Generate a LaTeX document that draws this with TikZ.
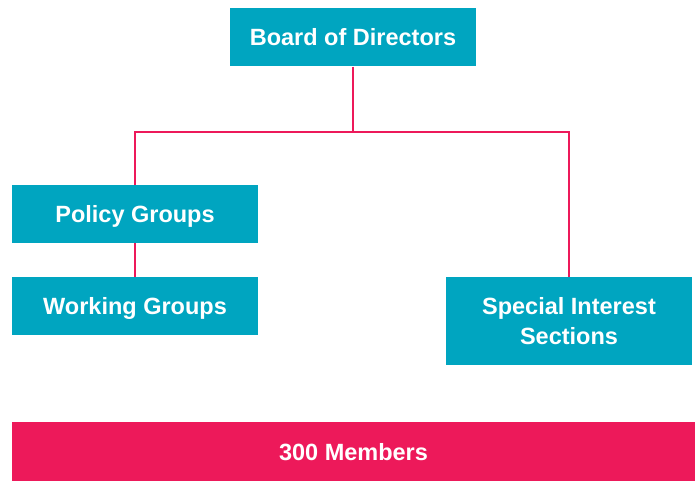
\documentclass[tikz,border=0pt]{standalone}
\usepackage{fontspec}
\setmainfont{Liberation Sans}
\usetikzlibrary{positioning}
\definecolor{teal}{RGB}{0,165,192}
\definecolor{rose}{RGB}{237,25,90}

\begin{document}
\begin{tikzpicture}
      [x = 1pt, y = -1pt,
      box/.style= {
         fill = teal,
         text = white,
         inner sep = 0pt,
         minimum width = 246pt,
         minimum height = 58pt,
         text height = 17pt,
         text depth = 0pt,
         align = center,
         font = \fontsize{23.5}{30}\selectfont\bfseries
      },
      link/.style= {
         draw = rose,
         line width = 2pt
      }]

      \useasboundingbox (0, 0) rectangle (696, 481);

      \node[box] (board) at (353, 37.5) {Board of Directors};
      \node[box] (policy) at (135, 214) {Policy Groups};
      \node[box] (working) at (135, 306) {Working Groups};
      \node[box, minimum height = 88pt, text height = 47pt] (special) at (569, 321) {Special Interest\\Sections};
      \node[box, fill = rose, minimum width = 683pt, minimum height = 59pt] (members) at (353.5, 451.5) {300 Members};

      \coordinate (fork) at (353, 132);

      \draw[link] (board.south) -- (fork);
      \draw[link] (policy.north) |- (fork) -| (special.north);
      \draw[link] (policy.south) -- (working.north);

   \end{tikzpicture}
\end{document}
